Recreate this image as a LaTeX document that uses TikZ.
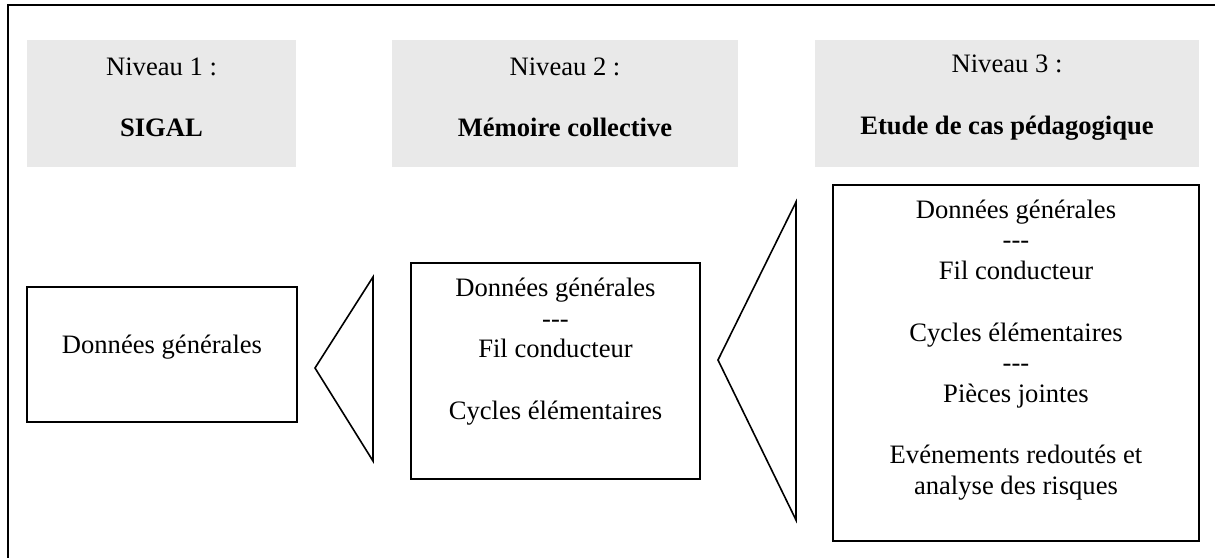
\documentclass[tikz,border=0pt]{standalone}
\usepackage{fontspec}
\setmainfont{Liberation Serif}
\definecolor{headgray}{RGB}{233,233,233}
\begin{document}
\begin{tikzpicture}[x=0.5pt,y=-0.5pt,
  header/.style={fill=headgray, draw=none, inner sep=0pt},
  box/.style={draw, line width=0.8pt, inner sep=0pt},
  txt/.style={align=center, font=\fontsize{13.3}{15.35}\selectfont, inner sep=0pt},
  funnel/.style={draw, line width=0.8pt, line join=miter}]
\useasboundingbox (0,0) rectangle (1215,558);

% outer frame (top and left edges)
\coordinate (fr) at (1215,5);
\coordinate (fc) at (8,5);
\coordinate (fb) at (8,558);
\draw[line width=1.2pt] (fr) -- (fc) -- (fb);

% level headers
\node[header, minimum width=134.5pt, minimum height=63.5pt] (h1) at (161.5,103.5) {};
\node[header, minimum width=173pt, minimum height=63.5pt] (h2) at (565,103.5) {};
\node[header, minimum width=192pt, minimum height=63.5pt] (h3) at (1007,103.5) {};
\node[txt] (h1t) at (161.5,97.5) {Niveau 1 :\\[15.35pt]\textbf{SIGAL}};
\node[txt] (h2t) at (565,97.5) {Niveau 2 :\\[15.35pt]\textbf{Mémoire collective}};
\node[txt] (h3t) at (1007,97.5) {Niveau 3 :\\[15.35pt]\textbf{Etude de cas pédagogique}};

% content boxes
\node[box, minimum width=135pt, minimum height=67.5pt] (b1) at (162,354.5) {};
\node[box, minimum width=144.5pt, minimum height=108pt] (b2) at (555.5,371) {};
\node[box, minimum width=183pt, minimum height=178pt] (b3) at (1016,363) {};

\node[txt] (b1t) at (162,347) {Données générales};
\node[txt] (b2t) at (555.5,351.5) {Données générales\\-{}-{}-\\Fil conducteur\\[15.35pt]Cycles élémentaires};
\node[txt] (b3t) at (1016,350) {Données générales\\-{}-{}-\\Fil conducteur\\[15.35pt]Cycles élémentaires\\-{}-{}-\\Pièces jointes\\[15.35pt]Evénements redoutés et\\analyse des risques};

% funnels between levels
\coordinate (f1tip) at (315,368);
\coordinate (f1top) at (373,277);
\coordinate (f1bot) at (373,461);
\draw[funnel] (f1top) -- (f1tip) -- (f1bot) -- cycle;
\coordinate (f2tip) at (718,360);
\coordinate (f2top) at (796,202);
\coordinate (f2bot) at (796,520);
\draw[funnel] (f2top) -- (f2tip) -- (f2bot) -- cycle;
\end{tikzpicture}
\end{document}
